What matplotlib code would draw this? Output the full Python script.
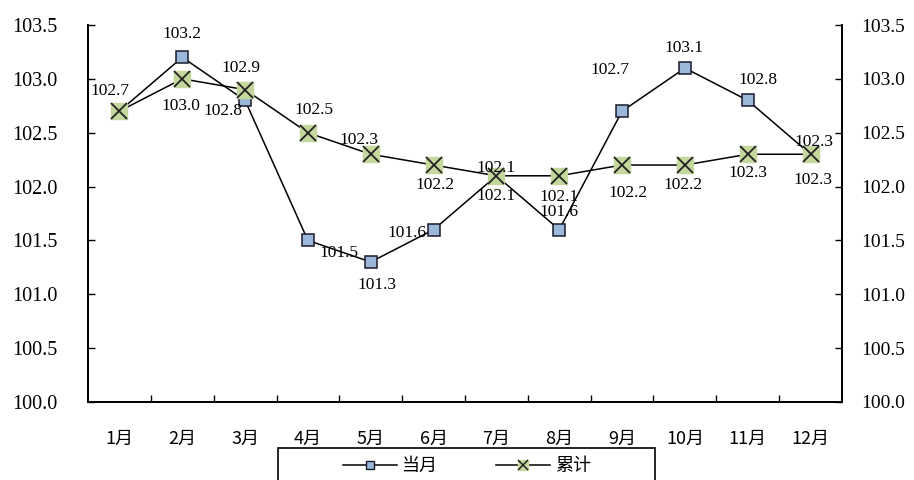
import matplotlib
matplotlib.use("Agg")
from matplotlib import pyplot as plt
from matplotlib.lines import Line2D
from matplotlib.patches import Rectangle

plt.rcParams['font.family'] = ['Liberation Serif', 'Noto Sans CJK SC', 'DejaVu Sans']

months = ['1月', '2月', '3月', '4月', '5月', '6月', '7月', '8月', '9月', '10月', '11月', '12月']
monthly = [102.7, 103.2, 102.8, 101.5, 101.3, 101.6, 102.1, 101.6, 102.7, 103.1, 102.8, 102.3]
cumulative = [102.7, 103.0, 102.9, 102.5, 102.3, 102.2, 102.1, 102.1, 102.2, 102.2, 102.3, 102.3]
y_ticks = [100.0, 100.5, 101.0, 101.5, 102.0, 102.5, 103.0, 103.5]

# label offsets in pixels (dx, dy), None = no label
monthly_off = [None, (0, 23), (-22, -11), (31, -13), (6, -23), (-27, -3),
               (0, -20), (0, 18), (-12, 41), (-1, 20), (10, 20), (3, 12)]
cum_off = [(-9, 20), (-1, -27), (-4, 22), (6, 23), (-12, 14), (1, -20),
           (0, 8), (0, -21), (6, -28), (-2, -20), (0, -19), (2, -26)]

blue = '#9bb7da'
green = '#c4d79c'
serif = ['Liberation Serif', 'DejaVu Serif']
cjk = ['Noto Sans CJK SC', 'DejaVu Sans']

fig = plt.figure(figsize=(9.14, 4.8), dpi=100)
ax = fig.add_axes([88 / 914, 78 / 480, 754 / 914, 377 / 480])

x = list(range(len(months)))

ax.plot(x, monthly, color='black', lw=1.1, marker='s', ms=8.5,
        mfc=blue, mec='#1a1a2a', mew=1.1, zorder=3)
ax.plot(x, cumulative, color='black', lw=1.1, zorder=4)
ax.plot(x, cumulative, ls='none', marker='s', ms=11, mfc=green, mec=green, zorder=5)
ax.plot(x, cumulative, ls='none', marker='x', ms=11, mec='#222222', mew=1.3, zorder=6)

for i in x:
    if monthly_off[i] is not None:
        ax.annotate(f'{monthly[i]:.1f}', (i, monthly[i]), xytext=monthly_off[i],
                    textcoords='offset pixels', ha='center', va='center',
                    family=serif, fontsize=12.5, zorder=7)
    if cum_off[i] is not None:
        ax.annotate(f'{cumulative[i]:.1f}', (i, cumulative[i]), xytext=cum_off[i],
                    textcoords='offset pixels', ha='center', va='center',
                    family=serif, fontsize=12.5, zorder=7)

ax.set_xlim(-0.5, len(months) - 0.5)
ax.set_ylim(100.0, 103.5)

ax.tick_params(axis='y', direction='in', length=5, width=1, pad=22)
ax.set_yticks(y_ticks)
ax.set_yticklabels([f'{v:.1f}' for v in y_ticks], family=serif, fontsize=14.5)

ax.tick_params(axis='x', which='major', direction='in', length=5, width=1)
ax.tick_params(axis='x', which='minor', length=0, pad=20)
ax.set_xticks([i + 0.5 for i in x[:-1]], minor=False)
ax.set_xticklabels([])
ax.set_xticks(x, minor=True)
ax.set_xticklabels(months, minor=True, family=cjk, fontsize=13)

ax2 = ax.twinx()
ax2.set_ylim(100.0, 103.5)
ax2.tick_params(axis='y', direction='in', length=5, width=1, pad=14)
ax2.set_yticks(y_ticks)
ax2.set_yticklabels([f'{v:.1f}' for v in y_ticks], family=serif, fontsize=14)

for a in (ax, ax2):
    a.spines['top'].set_visible(False)
    for s in ('left', 'right', 'bottom'):
        a.spines[s].set_linewidth(1.3)

handles = [
    Line2D([], [], color='black', lw=1.1, marker='s', ms=6, mfc=blue, mec='#1a1a2a'),
    (Line2D([], [], color='black', lw=1.1),
     Line2D([], [], ls='none', marker='s', ms=7, mfc=green, mec=green),
     Line2D([], [], ls='none', marker='x', ms=7, mec='#222222', mew=1.1)),
]
fig.legend(handles, ['当月', '累计'], loc='center', bbox_to_anchor=(467 / 914, 1 - 466 / 480),
           ncol=2, frameon=False, handlelength=3.0, columnspacing=3.2, handletextpad=0.3,
           prop={'family': cjk, 'size': 13})
fig.patches.append(Rectangle((278 / 914, -0.1), 377 / 914, 0.1 + 32 / 480,
                             transform=fig.transFigure, fill=False, ec='black', lw=1.2))

fig.savefig('out.png', dpi=100)
